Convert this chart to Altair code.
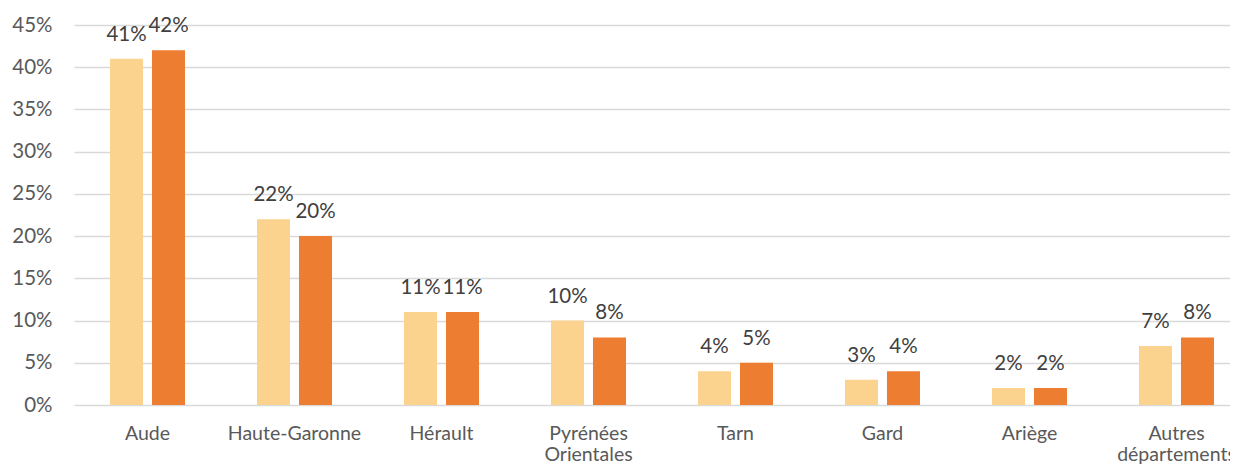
import altair as alt
import pandas as pd

categories = ["Aude", "Haute-Garonne", "Hérault", "Pyrénées Orientales", "Tarn", "Gard", "Ariège", "Autres départements"]
series_names = ["Série 1", "Série 2"]
serie1 = [41, 22, 11, 10, 4, 3, 2, 7]
serie2 = [42, 20, 11, 8, 5, 4, 2, 8]
y_ticks = [0, 0.05, 0.10, 0.15, 0.20, 0.25, 0.30, 0.35, 0.40, 0.45]

rows = []
for c, a, b in zip(categories, serie1, serie2):
    rows.append({"cat": c, "serie": series_names[0], "val": a / 100})
    rows.append({"cat": c, "serie": series_names[1], "val": b / 100})
df = pd.DataFrame(rows)

FONT = "Lato"

x = alt.X("cat:N", sort=categories, title=None,
          scale=alt.Scale(range=[0, 1176], paddingInner=0.49, paddingOuter=0.245),
          axis=alt.Axis(labelExpr="split(datum.label, ' ')", labelAngle=0,
                        labelFontSize=19.5, labelColor="#595959", labelFont=FONT,
                        labelPadding=28, labelLineHeight=21, ticks=False, domain=False,
                        labelBaseline="middle"))
xo = alt.XOffset("serie:N", sort=series_names,
                 scale=alt.Scale(paddingInner=0.214, paddingOuter=0))
y = alt.Y("val:Q", title=None,
          scale=alt.Scale(domain=[0, 0.45], nice=False),
          axis=alt.Axis(values=y_ticks, format=".0%", labelFontSize=20.5, labelColor="#595959",
                        labelFont=FONT, labelPadding=22, ticks=False, domain=False,
                        gridColor="#D9D9D9", gridWidth=1.5))
color = alt.Color("serie:N", sort=series_names, legend=None,
                  scale=alt.Scale(domain=series_names, range=["#FBD38F", "#ED7D31"]))

base = alt.Chart(df)
bars = base.mark_bar().encode(x=x, xOffset=xo, y=y, color=color)
labels = base.mark_text(baseline="alphabetic", dy=-18, fontSize=20.5, color="#404040", font=FONT).encode(
    x=x, xOffset=xo, y=y, text=alt.Text("val:Q", format=".0%"))

chart = (bars + labels).properties(
    width=1156, height=380,
    autosize=alt.AutoSizeParams(type="none"),
    padding={"left": 66, "top": 17, "right": 0, "bottom": 61},
).configure_view(stroke=None)

chart.save("out.html", embed_options={"renderer": "svg", "actions": False})
